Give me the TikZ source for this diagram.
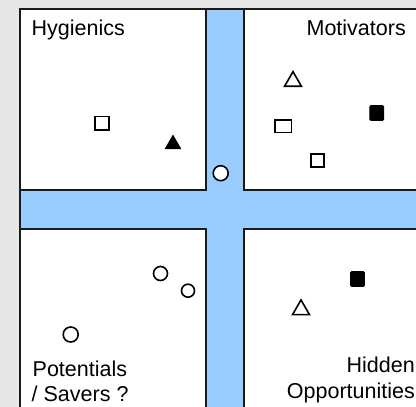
\documentclass[tikz,border=0pt]{standalone}
\usepackage{fontspec}
\setmainfont{Liberation Sans}
\usetikzlibrary{shapes.geometric}
\definecolor{bggray}{HTML}{E6E6E6}
\definecolor{bandblue}{HTML}{99CCFF}
\definecolor{edge}{HTML}{1A1A1A}
\tikzset{
  quad/.style={draw=edge, line width=1.6bp, fill=white},
  lbl/.style={inner sep=0, font=\fontsize{21.5bp}{25bp}\selectfont, text=black},
  osq/.style={draw=black, line width=1.6bp, fill=white, rectangle, inner sep=0, minimum width=13.5bp, minimum height=13.5bp},
  fsq/.style={draw=black, line width=1.2bp, fill=black, rectangle, inner sep=0, minimum width=13.5bp, minimum height=14.5bp, rounded corners=1bp},
  ocirc/.style={draw=black, line width=1.6bp, fill=white, circle, inner sep=0, minimum size=14bp},
  otri/.style={draw=black, line width=1.6bp, fill=white, regular polygon, regular polygon sides=3, inner sep=0, minimum size=19.5bp},
  ftri/.style={draw=black, line width=1bp, fill=black, regular polygon, regular polygon sides=3, inner sep=0, minimum size=17.5bp},
}
\begin{document}
\begin{tikzpicture}[x=1bp,y=-1bp]
\useasboundingbox (0,0) rectangle (416,407);
\clip (0,0) rectangle (416,407);
\fill[bggray] (0,0) rectangle (416,407);
% blue cross background
\draw[draw=edge, line width=1.6bp, fill=bandblue] (20,9) rectangle (440,430);
% quadrants
\draw[quad] (20,9) rectangle (206,190);
\draw[quad] (244,9) rectangle (440,190);
\draw[quad] (20,229) rectangle (206,430);
\draw[quad] (244,229) rectangle (440,430);
% labels
\node[lbl, anchor=base west] (hyg) at (31.5,35.7) {Hygienics};
\node[lbl, anchor=base east] (mot) at (406,35.7) {Motivators};
\node[lbl, anchor=base west] (pot) at (32.5,376.7) {Potentials};
\node[lbl, anchor=base west] (sav) at (31.5,401.7) {/ Savers ?};
\node[lbl, anchor=base east] (hid) at (415,372.7) {Hidden};
\node[lbl, anchor=base east] (opp) at (415,398) {Opportunities};
% markers: Hygienics
\node[osq] (h1) at (102,123.3) {};
\node[ftri] (h2) at (173,144.3) {};
% Motivators
\node[otri] (m1) at (293,81.4) {};
\node[fsq] (m2) at (376.7,113) {};
\node[osq, minimum width=16.5bp, minimum height=12.8bp] (m3) at (283.3,126.2) {};
\node[osq] (m4) at (317.5,160.5) {};
% center strip
\node[ocirc, minimum size=15bp] (c0) at (220.7,173.2) {};
% Potentials
\node[ocirc] (p1) at (160.5,273.5) {};
\node[ocirc, minimum size=13bp] (p2) at (188,290.7) {};
\node[ocirc, minimum size=15bp] (p3) at (70.7,334.5) {};
% Hidden opportunities
\node[fsq] (o1) at (357.5,279) {};
\node[otri] (o2) at (301,309.7) {};
\end{tikzpicture}
\end{document}
